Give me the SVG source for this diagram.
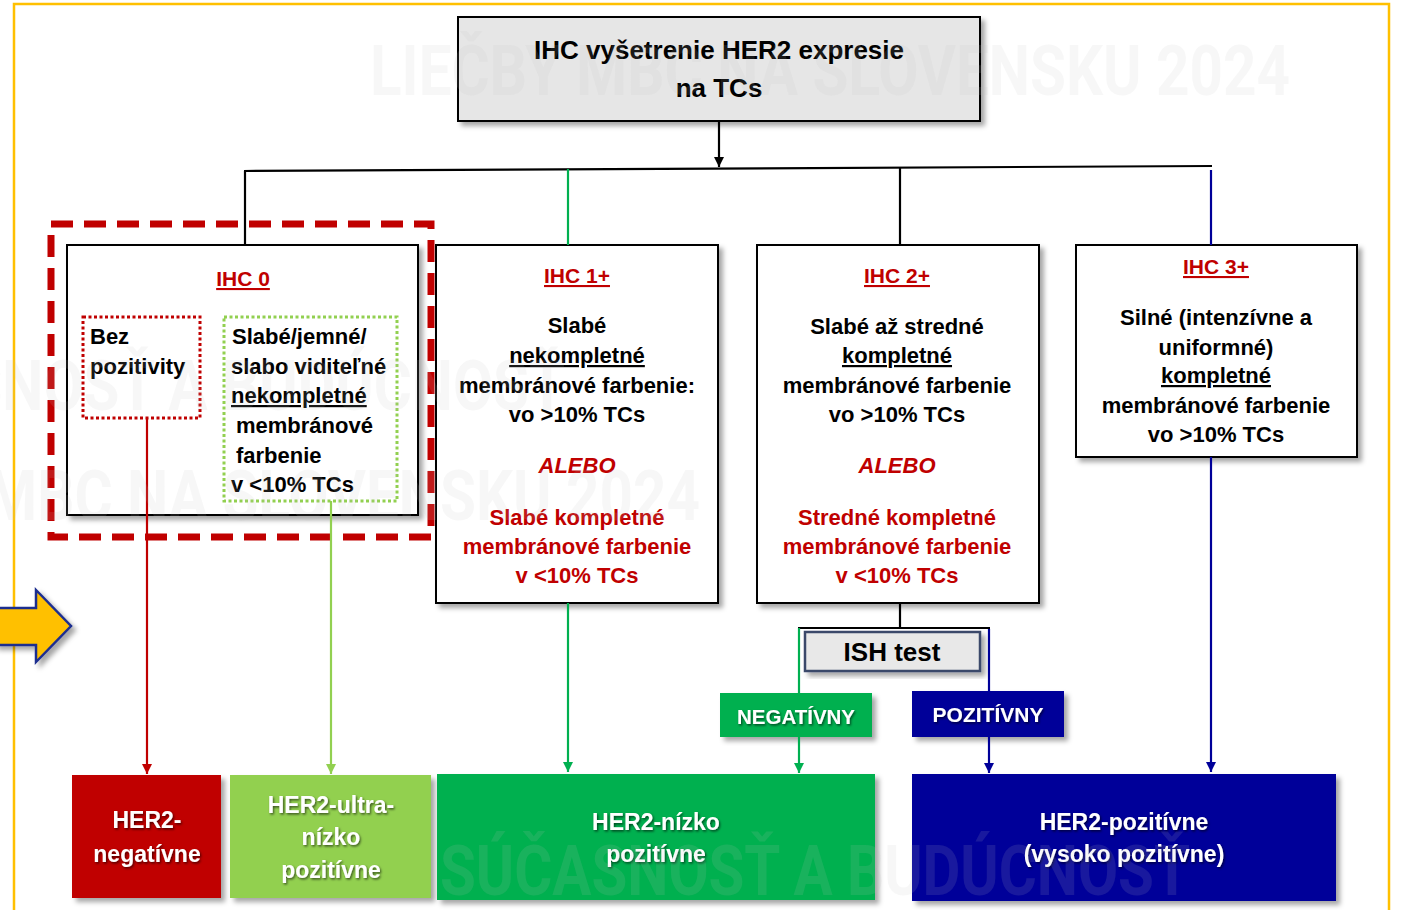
<svg xmlns="http://www.w3.org/2000/svg" width="1401" height="910" viewBox="0 0 1401 910">
<defs>
<style>
.t{font-family:'Liberation Sans',Arial,sans-serif;font-weight:bold;font-size:22px;fill:#000}
.c{text-anchor:middle}
.r{fill:#c00000}
.u{text-decoration:underline}
.i{font-style:italic}
.w{fill:#fff;font-size:23px;filter:url(#ts)}
.s21{font-size:21px}
.s205{font-size:20.5px}
.s26{font-size:26px}
.box{fill:#fff;stroke:#000;stroke-width:2;filter:url(#sh)}
.wm{font-family:Roboto,'Liberation Sans',sans-serif;font-weight:bold;font-size:70px;fill:#bfbfbf;fill-opacity:0.13}
.ln{fill:none;stroke-width:2.2}
</style>
<filter id="sh" x="-10%" y="-10%" width="130%" height="130%"><feDropShadow dx="4" dy="4" stdDeviation="2.5" flood-color="#000" flood-opacity="0.35"/></filter>
<filter id="ts" x="-10%" y="-20%" width="130%" height="150%"><feDropShadow dx="1.2" dy="1.5" stdDeviation="0.8" flood-color="#000" flood-opacity="0.6"/></filter>
<marker id="aK" markerWidth="12" markerHeight="12" refX="10" refY="5" orient="auto" markerUnits="userSpaceOnUse"><path d="M0,0 L10,5 L0,10 Z" fill="#000"/></marker>
<marker id="aR" markerWidth="12" markerHeight="12" refX="10" refY="5" orient="auto" markerUnits="userSpaceOnUse"><path d="M0,0 L10,5 L0,10 Z" fill="#c00000"/></marker>
<marker id="aL" markerWidth="12" markerHeight="12" refX="10" refY="5" orient="auto" markerUnits="userSpaceOnUse"><path d="M0,0 L10,5 L0,10 Z" fill="#92d050"/></marker>
<marker id="aG" markerWidth="12" markerHeight="12" refX="10" refY="5" orient="auto" markerUnits="userSpaceOnUse"><path d="M0,0 L10,5 L0,10 Z" fill="#00b050"/></marker>
<marker id="aB" markerWidth="12" markerHeight="12" refX="10" refY="5" orient="auto" markerUnits="userSpaceOnUse"><path d="M0,0 L10,5 L0,10 Z" fill="#000099"/></marker>
</defs>
<rect x="0" y="0" width="1401" height="910" fill="#fff"/>
<rect x="14" y="4" width="1375" height="930" fill="none" stroke="#ffc000" stroke-width="2.5"/>

<g id="arrow-left">
<path d="M-5,608 L36,608 L36,590 L71,626 L36,662 L36,645 L-5,645 Z" fill="#ffc000" stroke="#1f2f8f" stroke-width="2.5" stroke-linejoin="miter" filter="url(#sh)"/>
</g>

<g id="title">
<rect x="458" y="17" width="522" height="104" fill="#e6e6e6" stroke="#000" stroke-width="2" filter="url(#sh)"/>
<text class="t c s26" x="719" y="59">IHC vyšetrenie HER2 expresie</text>
<text class="t c s26" x="719" y="97">na TCs</text>
</g>

<g id="ihc0">
<rect class="box" x="67" y="245" width="351" height="270"/>
<text class="t c r u s21" x="243" y="286">IHC 0</text>
<rect x="83" y="317" width="117" height="101" fill="none" stroke="#c00000" stroke-width="3" stroke-dasharray="3 2.5"/>
<text class="t" x="90" y="344">Bez</text>
<text class="t" x="90" y="374">pozitivity</text>
<rect x="224" y="317" width="173" height="184" fill="none" stroke="#92d050" stroke-width="3" stroke-dasharray="3 2.5"/>
<text class="t" x="232" y="344">Slabé/jemné/</text>
<text class="t" x="231" y="374">slabo viditeľné</text>
<text class="t u" x="231" y="403">nekompletné</text>
<text class="t" x="236" y="433">membránové</text>
<text class="t" x="236" y="463">farbenie</text>
<text class="t" x="231" y="492">v &lt;10% TCs</text>
<rect x="51" y="224" width="380" height="313" fill="none" stroke="#c00000" stroke-width="7" stroke-dasharray="22 11"/>
</g>

<g id="ihc1">
<rect class="box" x="436" y="245" width="282" height="358"/>
<text class="t c r u s21" x="577" y="283">IHC 1+</text>
<text class="t c" x="577" y="333">Slabé</text>
<text class="t c u" x="577" y="363">nekompletné</text>
<text class="t c" x="577" y="393">membránové farbenie:</text>
<text class="t c" x="577" y="422">vo &gt;10% TCs</text>
<text class="t c r i" x="577" y="473">ALEBO</text>
<text class="t c r" x="577" y="525">Slabé kompletné</text>
<text class="t c r" x="577" y="554">membránové farbenie</text>
<text class="t c r" x="577" y="583">v &lt;10% TCs</text>
</g>

<g id="ihc2">
<rect class="box" x="757" y="245" width="282" height="358"/>
<text class="t c r u s21" x="897" y="283">IHC 2+</text>
<text class="t c" x="897" y="334">Slabé až stredné</text>
<text class="t c u" x="897" y="363">kompletné</text>
<text class="t c" x="897" y="393">membránové farbenie</text>
<text class="t c" x="897" y="422">vo &gt;10% TCs</text>
<text class="t c r i" x="897" y="473">ALEBO</text>
<text class="t c r" x="897" y="525">Stredné kompletné</text>
<text class="t c r" x="897" y="554">membránové farbenie</text>
<text class="t c r" x="897" y="583">v &lt;10% TCs</text>
</g>

<g id="ihc3">
<rect class="box" x="1076" y="245" width="281" height="212"/>
<text class="t c r u s21" x="1216" y="274">IHC 3+</text>
<text class="t c" x="1216" y="325">Silné (intenzívne a</text>
<text class="t c" x="1216" y="355">uniformné)</text>
<text class="t c u" x="1216" y="383">kompletné</text>
<text class="t c" x="1216" y="413">membránové farbenie</text>
<text class="t c" x="1216" y="442">vo &gt;10% TCs</text>
</g>

<g id="ish">
<rect x="805" y="632" width="175" height="39" fill="#e8e8e8" stroke="#3b4a6b" stroke-width="2.5" filter="url(#sh)"/>
<text class="t c s26" x="892" y="661">ISH test</text>
</g>

<g id="negativny">
<rect x="720" y="693" width="152" height="44" fill="#00b050" filter="url(#sh)"/>
<text class="t c w s205" x="796" y="724">NEGATÍVNY</text>
</g>

<g id="pozitivny">
<rect x="912" y="691" width="152" height="46" fill="#000099" filter="url(#sh)"/>
<text class="t c w s21" x="988" y="722">POZITÍVNY</text>
</g>

<g id="her2-neg">
<rect x="72" y="775" width="149" height="123" fill="#c00000" filter="url(#sh)"/>
<text class="t c w" x="147" y="828">HER2-</text>
<text class="t c w" x="147" y="862">negatívne</text>
</g>

<g id="her2-ultra">
<rect x="230" y="775" width="201" height="123" fill="#92d050" filter="url(#sh)"/>
<text class="t c w" x="331" y="813">HER2-ultra-</text>
<text class="t c w" x="331" y="845">nízko</text>
<text class="t c w" x="331" y="878">pozitívne</text>
</g>

<g id="her2-low">
<rect x="437" y="774" width="438" height="126" fill="#00b050" filter="url(#sh)"/>
<text class="t c w" x="656" y="830">HER2-nízko</text>
<text class="t c w" x="656" y="862">pozitívne</text>
</g>

<g id="her2-pos">
<rect x="912" y="774" width="424" height="127" fill="#000099" filter="url(#sh)"/>
<text class="t c w" x="1124" y="830">HER2-pozitívne</text>
<text class="t c w" x="1124" y="862">(vysoko pozitívne)</text>
</g>

<g id="connectors">
<line class="ln" x1="719" y1="121" x2="719" y2="167" stroke="#000" marker-end="url(#aK)"/>
<line class="ln" x1="244" y1="171" x2="1212" y2="166" stroke="#000"/>
<line class="ln" x1="245" y1="171" x2="245" y2="245" stroke="#000"/>
<line class="ln" x1="568" y1="169" x2="568" y2="245" stroke="#00b050"/>
<line class="ln" x1="900" y1="167" x2="900" y2="245" stroke="#000"/>
<line class="ln" x1="1211" y1="170" x2="1211" y2="245" stroke="#000099"/>
<line class="ln" x1="147" y1="418" x2="147" y2="774" stroke="#c00000" marker-end="url(#aR)"/>
<line class="ln" x1="331" y1="501" x2="331" y2="774" stroke="#92d050" marker-end="url(#aL)"/>
<line class="ln" x1="568" y1="603" x2="568" y2="772" stroke="#00b050" marker-end="url(#aG)"/>
<line class="ln" x1="1211" y1="457" x2="1211" y2="772" stroke="#000099" marker-end="url(#aB)"/>
<line class="ln" x1="900" y1="603" x2="900" y2="628" stroke="#000"/>
<line class="ln" x1="798" y1="628" x2="990" y2="628" stroke="#000"/>
<line class="ln" x1="799" y1="628" x2="799" y2="693" stroke="#00b050"/>
<line class="ln" x1="799" y1="737" x2="799" y2="773" stroke="#00b050" marker-end="url(#aG)"/>
<line class="ln" x1="989" y1="629" x2="989" y2="691" stroke="#000099"/>
<line class="ln" x1="989" y1="737" x2="989" y2="773" stroke="#000099" marker-end="url(#aB)"/>
</g>

<g id="watermark">
<text class="wm" x="370" y="95" textLength="920" lengthAdjust="spacingAndGlyphs">LIEČBY MBC NA SLOVENSKU 2024</text>
<text class="wm" x="-185" y="410" textLength="750" lengthAdjust="spacingAndGlyphs">SÚČASNOSŤ A BUDÚCNOSŤ</text>
<text class="wm" x="-220" y="520" textLength="920" lengthAdjust="spacingAndGlyphs">LIEČBY MBC NA SLOVENSKU 2024</text>
<text class="wm" x="440" y="895" textLength="750" lengthAdjust="spacingAndGlyphs">SÚČASNOSŤ A BUDÚCNOSŤ</text>
</g>
</svg>
